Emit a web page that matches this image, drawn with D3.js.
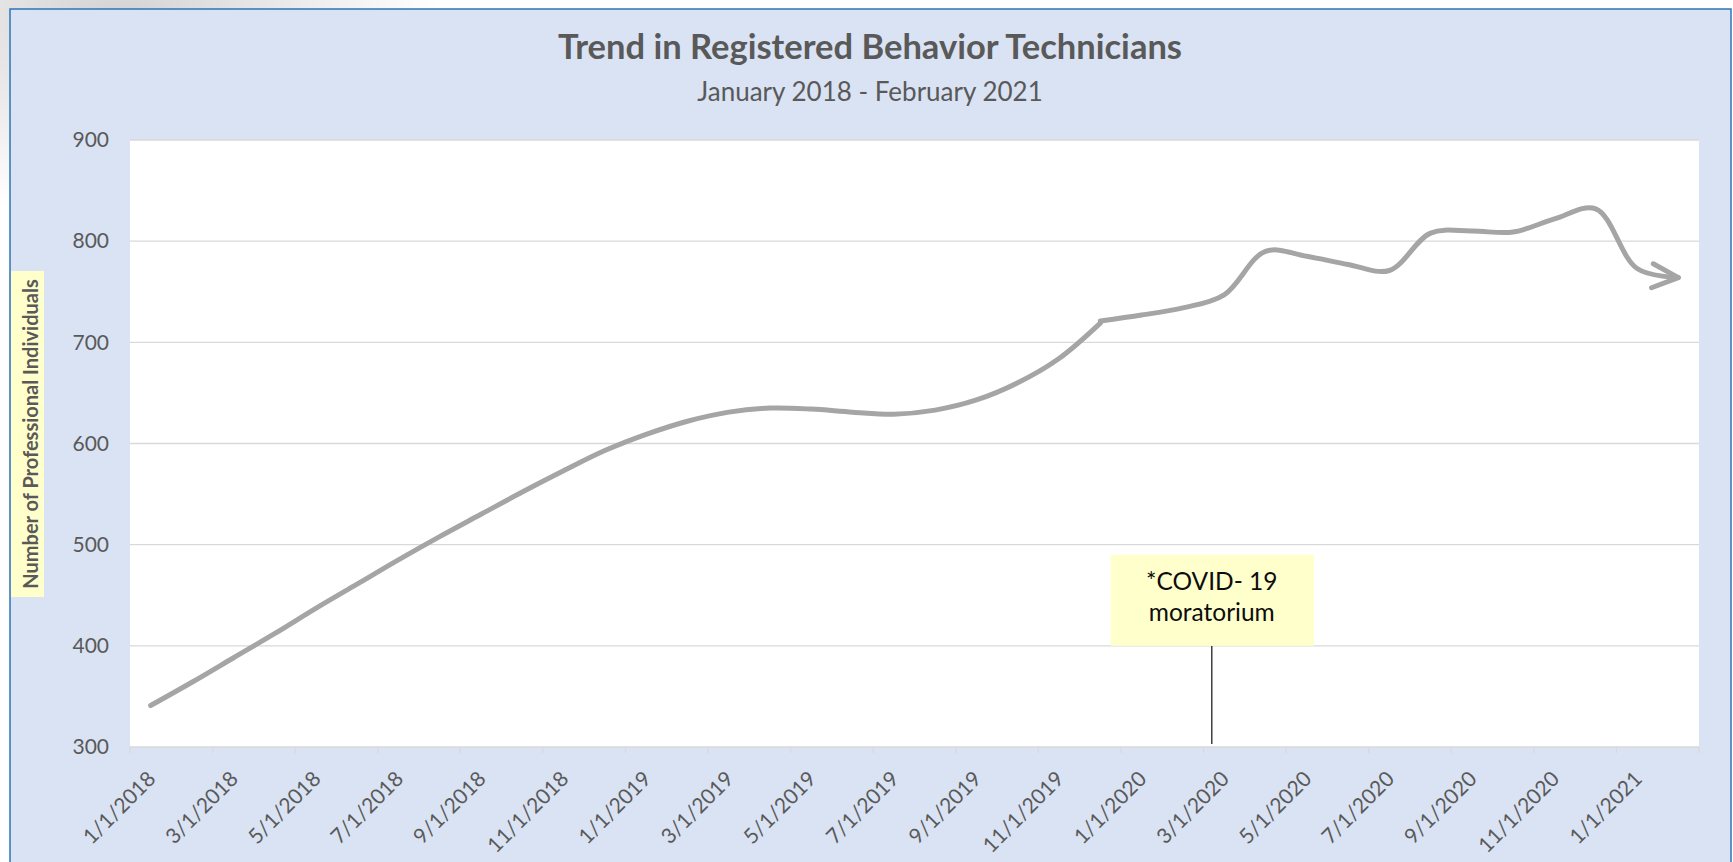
<!DOCTYPE html>
<html>
<head>
<meta charset="utf-8">
<title>Trend in Registered Behavior Technicians</title>
<script src="https://cdn.jsdelivr.net/npm/d3@7"></script>
<style>
  html, body { margin: 0; padding: 0; background: #fff; }
  svg { display: block; font-family: Lato, "Open Sans", sans-serif; }
  .grid-line { stroke: #d9d9d9; stroke-width: 1.3; }
  .tick-mark { stroke: #d9d9d9; stroke-width: 1.3; }
  .axis text { fill: #595959; }
</style>
</head>
<body>
<div id="chart"></div>
<script>
// categories: one per month
const months = [
  "1/1/2018", "2/1/2018", "3/1/2018", "4/1/2018", "5/1/2018", "6/1/2018",
  "7/1/2018", "8/1/2018", "9/1/2018", "10/1/2018", "11/1/2018", "12/1/2018",
  "1/1/2019", "2/1/2019", "3/1/2019", "4/1/2019", "5/1/2019", "6/1/2019",
  "7/1/2019", "8/1/2019", "9/1/2019", "10/1/2019", "11/1/2019", "12/1/2019",
  "1/1/2020", "2/1/2020", "3/1/2020", "4/1/2020", "5/1/2020", "6/1/2020",
  "7/1/2020", "8/1/2020", "9/1/2020", "10/1/2020", "11/1/2020", "12/1/2020",
  "1/1/2021", "2/1/2021"
];
// shown on the axis (every second month)
const tickLabels = months.filter((m, i) => i % 2 === 0);
const yTicks = [300, 400, 500, 600, 700, 800, 900];

// number of RBTs, 1/2018 - 12/2019
const trendBefore = [341, 364, 388, 412, 437, 461, 485, 508, 530, 552, 573, 593,
                     609, 622, 631, 635, 634, 631, 629, 633, 643, 660, 684, 719];
// 12/2019 - 2/2021, drawn as a second stroke ending in an arrow
const afterStart = "12/1/2019";
const trendAfter = [721, 727, 734, 747, 790, 785, 777, 771, 808, 810, 809, 822, 832, 773, 764];

const covidMonth = "3/1/2020";
const covidNote = ["*COVID- 19", "moratorium"];

const titleText = "Trend in Registered Behavior Technicians";
const subtitleText = "January 2018 - February 2021";
const yTitleText = "Number of Professional Individuals";

var width = 1733, height = 862;
var plotLeft = 130, plotRight = 1699, plotTop = 140, plotBottom = 747;

var svg = d3.select("#chart").append("svg")
    .attr("width", width)
    .attr("height", height);

// серое пятно фона слайда в левом верхнем углу
var defs = svg.append("defs");
var blur = defs.append("radialGradient").attr("id", "corner");
blur.append("stop").attr("offset", "0%").attr("stop-color", "#c8c8c8").attr("stop-opacity", 0.8);
blur.append("stop").attr("offset", "100%").attr("stop-color", "#c8c8c8").attr("stop-opacity", 0);
svg.append("ellipse")
    .attr("cx", 120).attr("cy", 20)
    .attr("rx", 320).attr("ry", 200)
    .attr("fill", "url(#corner)");

// фон диаграммы
svg.append("rect")
    .attr("x", 10).attr("y", 9)
    .attr("width", 1721).attr("height", 900)
    .attr("fill", "#dae3f3")
    .attr("stroke", "#2e75b6")
    .attr("stroke-width", 1.5);

svg.append("rect")
    .attr("x", plotLeft).attr("y", plotTop)
    .attr("width", plotRight - plotLeft).attr("height", plotBottom - plotTop)
    .attr("fill", "#fff");

var x = d3.scaleBand().domain(months).range([plotLeft, plotRight]).padding(0);
var bw = x.bandwidth();
var y = d3.scaleLinear().domain([300, 900]).range([plotBottom, plotTop]);

// grid
svg.append("g").selectAll("line")
    .data(yTicks)
    .join("line")
    .attr("class", "grid-line")
    .attr("x1", plotLeft).attr("x2", plotRight)
    .attr("y1", d => y(d)).attr("y2", d => y(d));

// tick marks between categories
var markX = tickLabels.map(m => x(m)).concat([plotRight]);
svg.append("g").selectAll("line")
    .data(markX)
    .join("line")
    .attr("class", "tick-mark")
    .attr("x1", d => d).attr("x2", d => d)
    .attr("y1", plotBottom).attr("y2", plotBottom + 6);

// y axis
var yAxis = svg.append("g")
    .attr("class", "axis")
    .attr("transform", "translate(" + plotLeft + ",0)")
    .call(d3.axisLeft(y).tickValues(yTicks).tickSize(0).tickPadding(21));
yAxis.select(".domain").remove();
yAxis.selectAll("text").style("font-size", "21px").style("font-family", "Lato");

// x axis
var xAxis = svg.append("g")
    .attr("class", "axis")
    .attr("transform", "translate(0," + plotBottom + ")")
    .call(d3.axisBottom(x).tickValues(tickLabels).tickSize(0));
xAxis.select(".domain").remove();
xAxis.selectAll("text")
    .style("font-size", "21px").style("font-family", "Lato")
    .attr("x", 0).attr("y", 0).attr("dy", "0.35em")
    .attr("text-anchor", "end")
    .attr("transform", "translate(1,28) rotate(-45)");

// arrow head
defs.append("marker")
    .attr("id", "arrow")
    .attr("markerUnits", "userSpaceOnUse")
    .attr("viewBox", "-35 -20 45 40")
    .attr("markerWidth", 45).attr("markerHeight", 40)
    .attr("refX", 0).attr("refY", 0)
    .attr("orient", 4)
    .style("overflow", "visible")
  .append("path")
    .attr("d", "M-26,-12L0,0L-26,12")
    .attr("fill", "none")
    .attr("stroke", "#a5a5a5")
    .attr("stroke-width", 5)
    .attr("stroke-linecap", "round")
    .attr("stroke-linejoin", "round");

function trendLine(start) {
    var i0 = months.indexOf(start);
    return d3.line()
        .x((d, i) => x(months[i0 + i]) + bw / 2)
        .y(d => y(d))
        .curve(d3.curveCatmullRom.alpha(0.5));
}

svg.append("path")
    .datum(trendBefore)
    .attr("d", trendLine(months[0]))
    .attr("fill", "none")
    .attr("stroke", "#a5a5a5")
    .attr("stroke-width", 5)
    .attr("stroke-linecap", "round");

svg.append("path")
    .datum(trendAfter)
    .attr("d", trendLine(afterStart))
    .attr("fill", "none")
    .attr("stroke", "#a5a5a5")
    .attr("stroke-width", 5)
    .attr("stroke-linecap", "round")
    .attr("marker-end", "url(#arrow)");

// callout COVID
var cx = x(covidMonth) + bw * 0.2;
var note = svg.append("g");
note.append("line")
    .attr("x1", cx).attr("x2", cx)
    .attr("y1", y(400)).attr("y2", y(300) - 3)
    .attr("stroke", "#333")
    .attr("stroke-width", 1.4);
note.append("rect")
    .attr("x", cx - 101).attr("y", y(490))
    .attr("width", 203).attr("height", y(400) - y(490))
    .attr("fill", "#ffffcc");
note.selectAll("text")
    .data(covidNote)
    .join("text")
    .attr("x", cx)
    .attr("y", (d, i) => y(490) + 35 + i * 31.5)
    .attr("text-anchor", "middle")
    .style("font-size", "24.5px")
    .attr("fill", "#0d0d0d")
    .text(d => d);

// axis title
svg.append("rect")
    .attr("x", 11).attr("y", 271)
    .attr("width", 33).attr("height", 326)
    .attr("fill", "#ffffcc");
svg.append("text")
    .attr("transform", "translate(31,434) rotate(-90)")
    .attr("text-anchor", "middle")
    .attr("dy", "0.35em")
    .style("font-size", "20px")
    .style("font-weight", "bold")
    .attr("fill", "#595959")
    .text(yTitleText);

// titles
svg.append("text")
    .attr("x", 870).attr("y", 59)
    .attr("text-anchor", "middle")
    .style("font-size", "34.5px")
    .style("font-weight", "bold")
    .attr("fill", "#595959")
    .text(titleText);
svg.append("text")
    .attr("x", 870).attr("y", 101)
    .attr("text-anchor", "middle")
    .style("font-size", "26px")
    .attr("fill", "#595959")
    .text(subtitleText);
</script>
</body>
</html>
